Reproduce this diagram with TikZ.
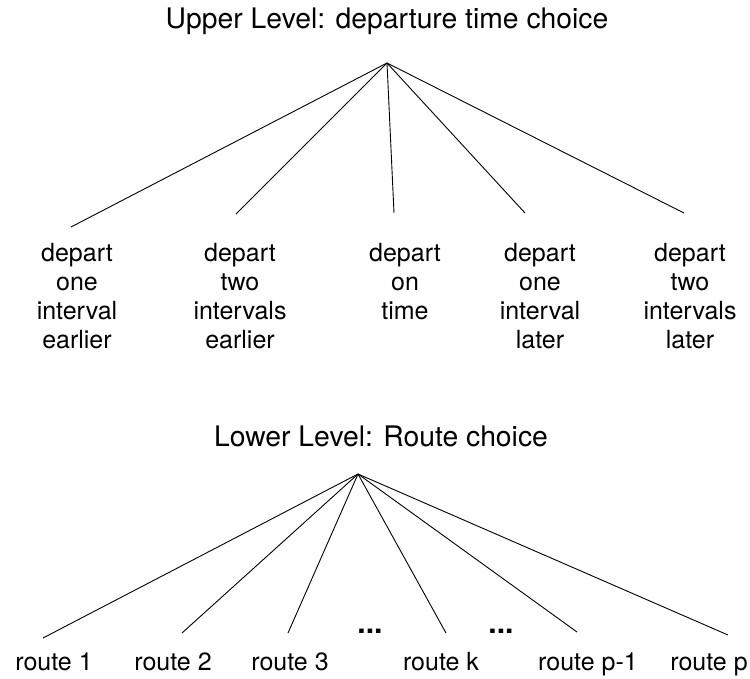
\documentclass[tikz,border=0pt]{standalone}
\usepackage{fontspec}
\setmainfont{TeX Gyre Heros}
\begin{document}
\begin{tikzpicture}[x=1pt,y=-1pt,
  lbl/.style={inner sep=0pt,font=\fontsize{25}{29}\selectfont,align=center},
  ttl/.style={inner sep=0pt,font=\fontsize{28.3}{32}\selectfont},
  dts/.style={inner sep=0pt,font=\fontsize{30}{32}\selectfont\bfseries},
  conn/.style={line width=0.9pt,black}]
\useasboundingbox (0,0) rectangle (750,678);
% titles
\node[ttl,anchor=base] (uptitle) at (387,28) {Upper Level: departure time choice};
\node[ttl,anchor=base] (lowtitle) at (381,446) {Lower Level: Route choice};
% upper tree
\coordinate (utop) at (387,63);
\coordinate (ue1) at (71,227);
\coordinate (ue2) at (236,214);
\coordinate (ue3) at (394,213);
\coordinate (ue4) at (525,213);
\coordinate (ue5) at (684,213);
\foreach \i in {1,...,5} \draw[conn] (utop) -- (ue\i);
\node[lbl,anchor=north] (d1) at (77,243) {depart\\one\\interval\\earlier};
\node[lbl,anchor=north] (d2) at (240,243) {depart\\two\\intervals\\earlier};
\node[lbl,anchor=north] (d3) at (405,243) {depart\\on\\time};
\node[lbl,anchor=north] (d4) at (540,243) {depart\\one\\interval\\later};
\node[lbl,anchor=north] (d5) at (690,243) {depart\\two\\intervals\\later};
% lower tree
\coordinate (ltop) at (358,474);
\coordinate (le1) at (43,638);
\coordinate (le2) at (182,633);
\coordinate (le3) at (288,633);
\coordinate (lek) at (446,633);
\coordinate (lep1) at (577,632);
\coordinate (lep) at (728,635);
\foreach \e in {le1,le2,le3,lek,lep1,lep} \draw[conn] (ltop) -- (\e);
\node[lbl,anchor=base] (r1) at (54,670) {route 1};
\node[lbl,anchor=base] (r2) at (173,670) {route 2};
\node[lbl,anchor=base] (r3) at (290,670) {route 3};
\node[lbl,anchor=base] (rk) at (441,670) {route k};
\node[lbl,anchor=base] (rp1) at (588,670) {route p-1};
\node[lbl,anchor=base] (rp) at (709,670) {route p};
\node[dts,anchor=base] (dots1) at (370,633) {...};
\node[dts,anchor=base] (dots2) at (501,633) {...};
\end{tikzpicture}
\end{document}
